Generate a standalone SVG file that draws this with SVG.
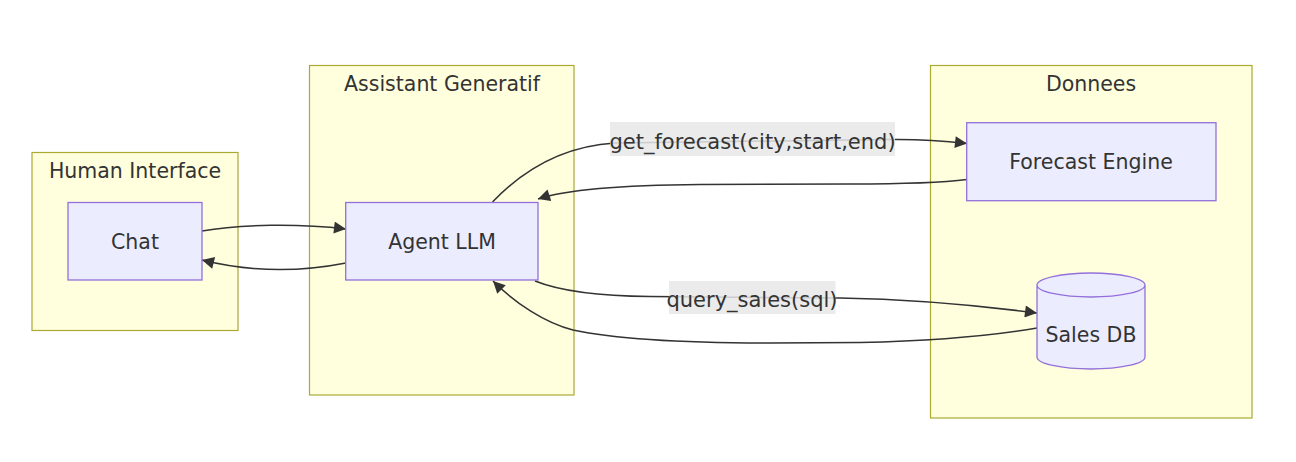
<svg xmlns="http://www.w3.org/2000/svg" width="1296" height="462" viewBox="0 0 1296 462">
<style>
.cluster{fill:#ffffde;stroke:#aaaa33;stroke-width:1.2}
.node{fill:#ececff;stroke:#9370db;stroke-width:1.3}
.lbl{font-family:"DejaVu Sans",Verdana,sans-serif;font-size:20.5px;fill:#333333;text-anchor:middle}
.elbl{font-size:21px}
.edge{fill:none;stroke:#333333;stroke-width:1.5}
.ebg{fill:#e8e8e8;fill-opacity:0.85}
</style>
<defs>
<marker id="arrow" viewBox="0 0 10 10" refX="10" refY="5" markerUnits="userSpaceOnUse" markerWidth="13" markerHeight="12" orient="auto">
<path d="M0,0 L10,5 L0,10 z" fill="#333333"/>
</marker>
</defs>
<rect width="1296" height="462" fill="#ffffff"/>
<g id="cluster-human">
<rect class="cluster" x="32" y="152.5" width="206" height="178"/>
<text class="lbl" x="135" y="178">Human Interface</text>
</g>
<g id="cluster-assistant">
<rect class="cluster" x="309.5" y="65.5" width="264.5" height="329.5"/>
<text class="lbl" x="442" y="90.5">Assistant Generatif</text>
</g>
<g id="cluster-donnees">
<rect class="cluster" x="930.5" y="65.5" width="321.5" height="352.5"/>
<text class="lbl" x="1091" y="90.5">Donnees</text>
</g>
<g id="connectors">
<path class="edge" d="M202,231 C240,224 300,223.5 346,229" marker-end="url(#arrow)"/>
<path class="edge" d="M346,263 C300,272 250,272 202,260" marker-end="url(#arrow)"/>
<path class="edge" d="M492.5,202 C525,168 565,146 615,143 L890,139.5 C925,139 945,141 967,143.5" marker-end="url(#arrow)"/>
<path class="edge" d="M967,179.5 C940,183 900,184 850,184 L700,184.5 C620,185 568,189 538,199" marker-end="url(#arrow)"/>
<path class="edge" d="M535,281 C555,289 590,296 650,296.5 L840,298 C900,299 960,303 1037,313" marker-end="url(#arrow)"/>
<path class="edge" d="M1037,328 C990,336 930,341 860,342.5 L770,343 C680,343 610,338 573,330 C545,323 515,303 493,281" marker-end="url(#arrow)"/>
<rect class="ebg" x="610" y="122" width="285" height="34"/>
<text class="lbl elbl" x="752.5" y="148.5">get_forecast(city,start,end)</text>
<rect class="ebg" x="669" y="281" width="166.5" height="33"/>
<text class="lbl elbl" x="752" y="307">query_sales(sql)</text>
</g>
<g id="node-chat">
<rect class="node" x="68" y="202.5" width="134" height="77.5"/>
<text class="lbl" x="135" y="248.5">Chat</text>
</g>
<g id="node-agent">
<rect class="node" x="345.7" y="202.5" width="192.3" height="77.5"/>
<text class="lbl" x="442" y="248.5">Agent LLM</text>
</g>
<g id="node-forecast">
<rect class="node" x="966.7" y="122.7" width="249.3" height="78"/>
<text class="lbl" x="1091" y="169.3">Forecast Engine</text>
</g>
<g id="node-salesdb">
<path class="node" d="M1037,285 a54,12 0 0 0 108,0 a54,12 0 0 0 -108,0 l0,72 a54,12 0 0 0 108,0 l0,-72"/>
<text class="lbl" x="1091" y="342.3">Sales DB</text>
</g>
</svg>
